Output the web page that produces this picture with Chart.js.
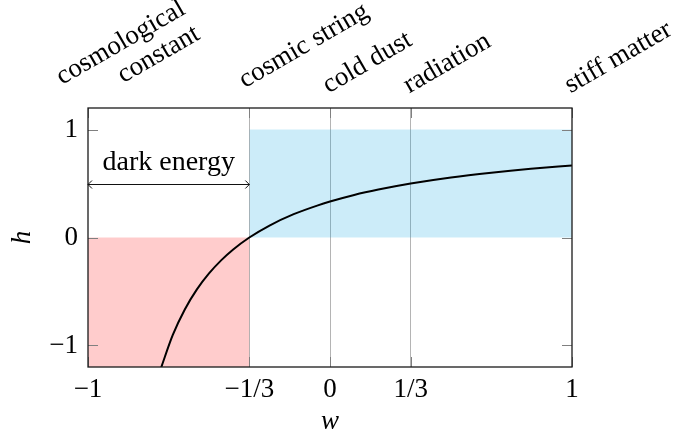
<!DOCTYPE html>
<html>
<head>
<meta charset="utf-8">
<script src="https://cdn.jsdelivr.net/npm/chart.js@4/dist/chart.umd.min.js"></script>
<style>
  html, body { margin: 0; padding: 0; background: #fff; }
  canvas { display: block; }
</style>
</head>
<body>
<canvas id="chart" width="688" height="435"></canvas>
<script>
// equation of state w vs. h
const curveW = [-0.70, -0.65, -0.60, -0.55, -0.50, -0.45, -0.40, -1/3, -0.25, -0.15, -0.05, 0, 0.10, 0.20, 1/3, 0.50, 2/3, 0.83, 1];
const curveH = [-1.22, -0.905, -0.667, -0.481, -0.333, -0.212, -0.111, 0, 0.111, 0.216, 0.298, 0.333, 0.394, 0.444, 0.5, 0.556, 0.6, 0.636, 0.667];

const redW = [-1, -1/3];
const redH = [0, 0];
const blueW = [-1/3, 1];
const blueH = [1, 1];

const gridW = [-1/3, 0, 1/3];
const xTicks = [-1, -1/3, 0, 1/3, 1];
const xTickLabels = ['−1', '−1/3', '0', '1/3', '1'];
const yTicks = [-1, 0, 1];
const yTickLabels = ['−1', '0', '1'];

const phaseW = [-1, -1/3, 0, 1/3, 1];
const phaseLabels = [['cosmological', 'constant'], ['cosmic string'], ['cold dust'], ['radiation'], ['stiff matter']];

const darkEnergyW = [-1, -1/3];
const darkEnergyH = 0.5;
const darkEnergyLabel = 'dark energy';

const FONT = '"Liberation Serif", "DejaVu Serif", serif';
const FS = 27;

function pts(xs, ys) {
    return xs.map((x, i) => ({ x: x, y: ys[i] }));
}

const decorations = {
    id: 'decorations',
    afterDatasetsDraw(chart) {
        const ctx = chart.ctx;
        const a = chart.chartArea;
        const xs = chart.scales.x, ys = chart.scales.y;
        ctx.save();

        // inward tick marks
        ctx.strokeStyle = '#808080';
        ctx.lineWidth = 1;
        ctx.beginPath();
        xTicks.forEach(v => {
            const px = Math.round(xs.getPixelForValue(v)) + 0.5;
            ctx.moveTo(px, a.bottom); ctx.lineTo(px, a.bottom - 10);
            ctx.moveTo(px, a.top); ctx.lineTo(px, a.top + 10);
        });
        yTicks.forEach(v => {
            const py = Math.round(ys.getPixelForValue(v)) + 0.5;
            ctx.moveTo(a.left, py); ctx.lineTo(a.left + 10, py);
            ctx.moveTo(a.right, py); ctx.lineTo(a.right - 10, py);
        });
        ctx.stroke();

        // frame
        ctx.strokeStyle = '#1a1a1a';
        ctx.lineWidth = 1.3;
        ctx.strokeRect(a.left, a.top, a.right - a.left, a.bottom - a.top);

        // dark energy arrow
        const x0 = xs.getPixelForValue(darkEnergyW[0]);
        const x1 = xs.getPixelForValue(darkEnergyW[1]);
        const ay = Math.round(ys.getPixelForValue(darkEnergyH)) + 0.5;
        ctx.strokeStyle = '#111';
        ctx.lineWidth = 1;
        ctx.beginPath();
        ctx.moveTo(x0, ay); ctx.lineTo(x1, ay);
        ctx.moveTo(x0 + 4, ay - 4); ctx.quadraticCurveTo(x0 + 1, ay - 1, x0, ay); ctx.quadraticCurveTo(x0 + 1, ay + 1, x0 + 4, ay + 4);
        ctx.moveTo(x1 - 4, ay - 4); ctx.quadraticCurveTo(x1 - 1, ay - 1, x1, ay); ctx.quadraticCurveTo(x1 - 1, ay + 1, x1 - 4, ay + 4);
        ctx.stroke();
        ctx.fillStyle = '#000';
        ctx.font = '28px ' + FONT;
        ctx.textAlign = 'center';
        ctx.textBaseline = 'alphabetic';
        ctx.fillText(darkEnergyLabel, (x0 + x1) / 2, ay - 15);

        // rotated phase labels above the plot
        ctx.font = FS + 'px ' + FONT;
        ctx.textAlign = 'left';
        phaseW.forEach((w, i) => {
            const lines = phaseLabels[i];
            const px = xs.getPixelForValue(w);
            ctx.save();
            ctx.translate(px, a.top - 12);
            ctx.rotate(-Math.PI / 6);
            if (lines.length === 1) {
                const m = ctx.measureText(lines[0]);
                ctx.fillText(lines[0], 0, -m.actualBoundingBoxDescent - 3);
            } else {
                const w1 = ctx.measureText(lines[0]).width;
                ctx.fillText(lines[0], -17, -22.5);
                ctx.textAlign = 'right';
                ctx.fillText(lines[1], -17 + w1, 6.5);
            }
            ctx.restore();
        });

        ctx.restore();
    }
};

new Chart(document.getElementById('chart'), {
    type: 'line',
    data: {
        datasets: [
            {
                data: pts(curveW, curveH),
                borderColor: '#000',
                borderWidth: 2,
                pointRadius: 0,
                fill: false,
                cubicInterpolationMode: 'monotone',
                clip: 0,
                order: 0
            },
            {
                data: pts(blueW, blueH),
                borderWidth: 0,
                pointRadius: 0,
                fill: 'origin',
                backgroundColor: 'rgba(0,160,225,0.2)',
                order: 1
            },
            {
                data: pts(redW, redH),
                borderWidth: 0,
                pointRadius: 0,
                fill: 'start',
                backgroundColor: 'rgba(255,0,0,0.2)',
                order: 2
            }
        ]
    },
    options: {
        responsive: false,
        devicePixelRatio: 1,
        animation: false,
        layout: { padding: { top: 108, right: 116, left: 0, bottom: 0 } },
        plugins: { legend: { display: false }, tooltip: { enabled: false } },
        scales: {
            x: {
                type: 'linear',
                min: -1,
                max: 1,
                afterBuildTicks: s => { s.ticks = xTicks.map(v => ({ value: v })); },
                afterFit: s => { s.height = 68; },
                ticks: {
                    autoSkip: false,
                    maxRotation: 0,
                    padding: 7,
                    color: '#000',
                    font: { family: FONT, size: FS },
                    callback: (v, i) => xTickLabels[i]
                },
                grid: {
                    drawTicks: false,
                    lineWidth: 1,
                    color: c => gridW.some(g => Math.abs(g - c.tick.value) < 1e-6) ? '#b4b4b4' : 'rgba(0,0,0,0)'
                },
                border: { display: false },
                title: {
                    display: true,
                    text: 'w',
                    color: '#000',
                    font: { family: FONT, size: FS, style: 'italic' },
                    padding: { top: 0, bottom: -3 }
                }
            },
            y: {
                type: 'linear',
                min: -1.2,
                max: 1.2,
                afterBuildTicks: s => { s.ticks = yTicks.map(v => ({ value: v })); },
                afterFit: s => { s.width = 88; },
                ticks: {
                    padding: 10,
                    color: '#000',
                    font: { family: FONT, size: FS },
                    callback: (v, i) => yTickLabels[i]
                },
                grid: { display: false, drawTicks: false },
                border: { display: false },
                title: {
                    display: true,
                    text: 'h',
                    color: '#000',
                    font: { family: FONT, size: FS, style: 'italic' },
                    padding: { top: 7, bottom: 0 }
                }
            }
        }
    },
    plugins: [decorations]
});
</script>
</body>
</html>
